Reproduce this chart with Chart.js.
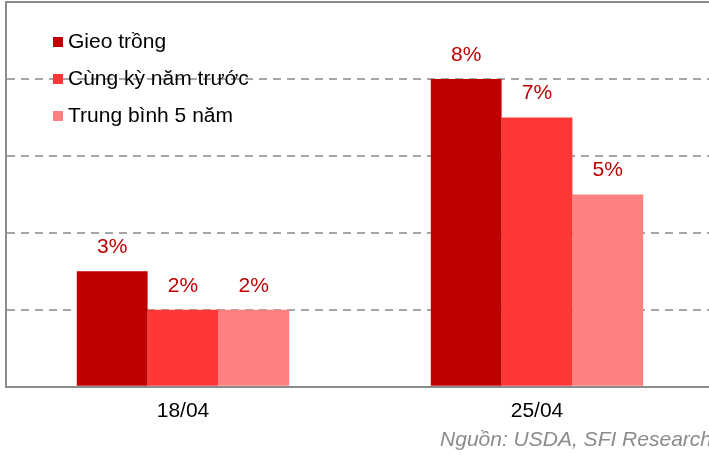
<!DOCTYPE html>
<html>
<head>
<meta charset="utf-8">
<script src="https://cdn.jsdelivr.net/npm/chart.js@4.4.1/dist/chart.umd.min.js"></script>
<style>
  html, body { margin: 0; padding: 0; background: #fff; overflow: hidden; }
  #wrap { width: 730px; height: 455px; position: relative; }
</style>
</head>
<body>
<div id="wrap"><canvas id="chart"></canvas></div>
<script>
var categories = ['18/04', '25/04'];
var seriesNames = ['Gieo trồng', 'Cùng kỳ năm trước', 'Trung bình 5 năm'];
var gieoTrong = [3, 8];
var cungKy = [2, 7];
var trungBinh = [2, 5];
var yTicks = [0, 2, 4, 6, 8, 10];
var sourceText = 'Nguồn: USDA, SFI Research';

var colors = ['#C00000', '#FF3737', '#FF8080'];
var FONT = '"Liberation Sans", Arial, Helvetica, sans-serif';

// nhãn % trên đầu cột
var valueLabels = {
    id: 'valueLabels',
    afterDatasetsDraw: function (chart) {
        var ctx = chart.ctx;
        ctx.save();
        ctx.font = '21px ' + FONT;
        ctx.fillStyle = '#C00000';
        ctx.textAlign = 'center';
        ctx.textBaseline = 'middle';
        chart.data.datasets.forEach(function (ds, i) {
            chart.getDatasetMeta(i).data.forEach(function (bar, j) {
                ctx.fillText(ds.data[j] + '%', bar.x, bar.y - 24);
            });
        });
        ctx.restore();
    }
};

// chú thích bên trong vùng vẽ + đường viền trên + nguồn
var extras = {
    id: 'extras',
    afterDraw: function (chart) {
        var ctx = chart.ctx;
        var area = chart.chartArea;
        ctx.save();
        ctx.strokeStyle = '#8c8c8c';
        ctx.lineWidth = 2;
        ctx.beginPath();
        ctx.moveTo(area.left, area.top);
        ctx.lineTo(area.right, area.top);
        ctx.stroke();

        ctx.font = '21px ' + FONT;
        ctx.textBaseline = 'middle';
        ctx.textAlign = 'left';
        chart.data.datasets.forEach(function (ds, i) {
            var y = 42 + i * 37;
            ctx.fillStyle = ds.backgroundColor;
            ctx.fillRect(53, y - 5, 10, 10);
            ctx.fillStyle = '#000';
            ctx.fillText(ds.label, 68, y);
        });

        ctx.font = 'italic 21px ' + FONT;
        ctx.fillStyle = '#8c8c8c';
        ctx.textAlign = 'right';
        ctx.fillText(sourceText, 712, 440);
        ctx.restore();
    }
};

new Chart(document.getElementById('chart').getContext('2d'), {
    type: 'bar',
    data: {
        labels: categories,
        datasets: [
            { label: seriesNames[0], data: gieoTrong, backgroundColor: colors[0] },
            { label: seriesNames[1], data: cungKy, backgroundColor: colors[1] },
            { label: seriesNames[2], data: trungBinh, backgroundColor: colors[2] }
        ]
    },
    options: {
        responsive: true,
        maintainAspectRatio: false,
        animation: false,
        layout: { padding: { left: 6, right: 16, top: 2, bottom: 27 } },
        datasets: { bar: { categoryPercentage: 0.6, barPercentage: 1.0 } },
        plugins: { legend: { display: false }, tooltip: { enabled: false } },
        scales: {
            x: {
                grid: { display: false },
                border: { color: '#8c8c8c', width: 2 },
                ticks: { color: '#000', font: { family: FONT, size: 21 }, padding: 4 }
            },
            y: {
                min: 0,
                max: 10,
                afterBuildTicks: function (axis) {
                    axis.ticks = yTicks.map(function (v) { return { value: v }; });
                },
                grid: { color: '#a6a6a6', lineWidth: 2, drawTicks: false },
                border: { color: '#8c8c8c', width: 2, dash: [8, 6] },
                ticks: { display: false }
            }
        }
    },
    plugins: [valueLabels, extras]
});
</script>
</body>
</html>
